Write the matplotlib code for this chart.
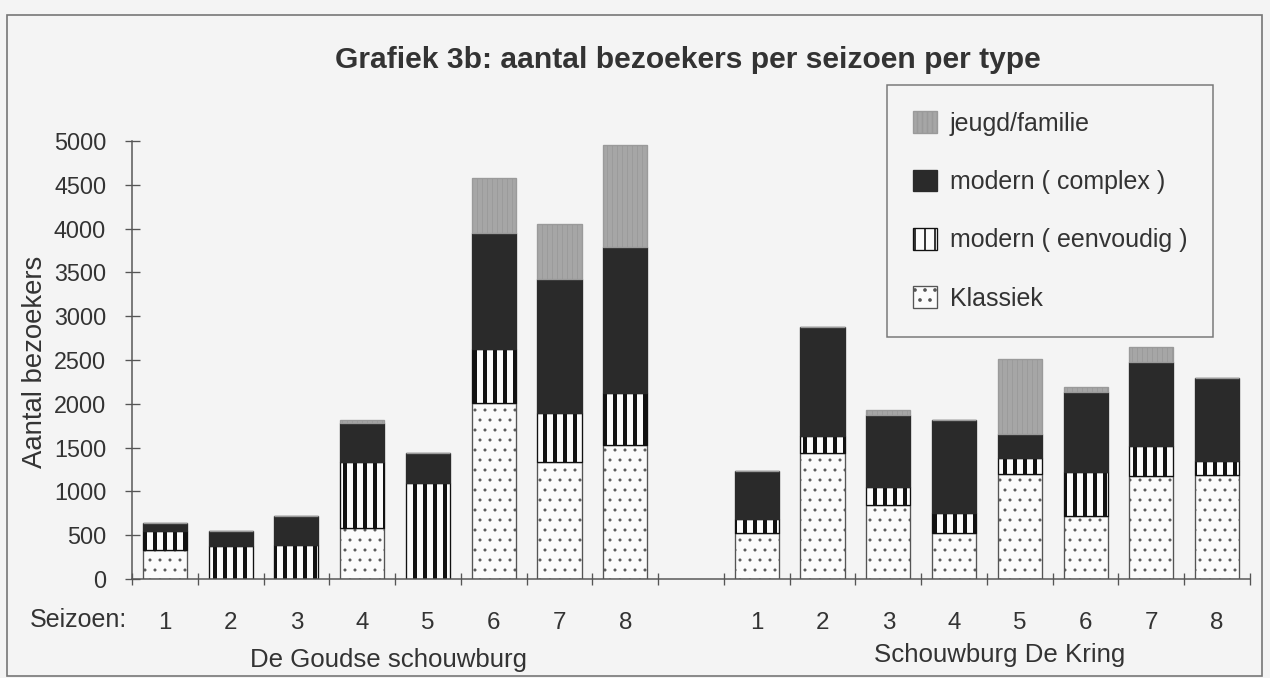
import matplotlib.pyplot as plt
import numpy as np
from matplotlib.patches import Rectangle

# seizoenen per schouwburg
seasons = ['1', '2', '3', '4', '5', '6', '7', '8']
venues = ['De Goudse schouwburg', 'Schouwburg De Kring']

# aantal bezoekers per type (De Goudse schouwburg)
goudse_klassiek = [330, 0, 0, 580, 0, 2010, 1335, 1535]
goudse_eenvoudig = [215, 380, 390, 755, 1100, 615, 565, 585]
goudse_complex = [95, 165, 330, 445, 340, 1330, 1530, 1665]
goudse_jeugd = [0, 0, 0, 40, 0, 620, 625, 1175]

# aantal bezoekers per type (Schouwburg De Kring)
kring_klassiek = [520, 1440, 850, 520, 1200, 720, 1180, 1190]
kring_eenvoudig = [170, 190, 200, 230, 180, 500, 340, 160]
kring_complex = [540, 1250, 820, 1060, 270, 910, 960, 950]
kring_jeugd = [0, 0, 60, 0, 860, 60, 170, 0]

y_ticks = [0, 500, 1000, 1500, 2000, 2500, 3000, 3500, 4000, 4500, 5000]

title = 'Grafiek 3b: aantal bezoekers per seizoen per type'

DPI = 120
plt.rcParams['font.family'] = ['Liberation Sans', 'DejaVu Sans']

fig = plt.figure(figsize=(1270 / DPI, 678 / DPI), dpi=DPI, facecolor='#f4f4f4')
ax = fig.add_axes([132 / 1270, 1 - 579 / 678, (1250 - 132) / 1270, (579 - 141) / 678])
ax.set_facecolor('#f4f4f4')

x = np.r_[np.arange(8), np.arange(9, 17)]
klassiek = np.array(goudse_klassiek + kring_klassiek)
eenvoudig = np.array(goudse_eenvoudig + kring_eenvoudig)
complex_ = np.array(goudse_complex + kring_complex)
jeugd = np.array(goudse_jeugd + kring_jeugd)

series = [
    ('Klassiek', klassiek, dict(facecolor='#fbfbfb', edgecolor='#555555', hatch='..'), 0.6),
    ('modern ( eenvoudig )', eenvoudig, dict(facecolor='#fbfbfb', edgecolor='#111111', hatch='||'), 2.4),
    ('modern ( complex )', complex_, dict(facecolor='#2a2a2a', edgecolor='#2a2a2a'), 1.0),
    ('jeugd/familie', jeugd, dict(facecolor='#a6a6a6', edgecolor='#9a9a9a', hatch='||||'), 0.5),
]

bottom = np.zeros(len(x))
handles = {}
for label, vals, style, hlw in series:
    with plt.rc_context({'hatch.linewidth': hlw}):
        bars = ax.bar(x, vals, 0.67, bottom=bottom, linewidth=0.8, label=label, **style)
        for b in bars:
            if hasattr(b, 'set_hatch_linewidth'):
                b.set_hatch_linewidth(hlw)
    handles[label] = bars
    bottom = bottom + vals

ax.set_xlim(-0.5, 16.5)
ax.set_ylim(0, 5000)
ax.set_yticks(y_ticks)
ax.set_xticks(x)
ax.set_xticklabels(seasons + seasons)
ax.set_xticks(np.arange(-0.5, 17, 1), minor=True)
ax.tick_params(axis='y', direction='inout', length=9, width=0.8, color='#555555',
               labelsize=14, pad=11, labelcolor='#333333')
ax.tick_params(axis='x', which='major', length=0, labelsize=14.5, pad=20, labelcolor='#333333')
ax.tick_params(axis='x', which='minor', direction='inout', length=7, width=0.8, color='#555555')
for s in ['top', 'right']:
    ax.spines[s].set_visible(False)
for s in ['left', 'bottom']:
    ax.spines[s].set_color('#555555')
    ax.spines[s].set_linewidth(0.9)

fig.text(35 / 1270, 1 - 362 / 678, 'Aantal bezoekers', rotation=90, ha='center', va='center',
         fontsize=16.5, color='#333333')

fig.text(688 / 1270, 1 - 60 / 678, title, ha='center', va='center', fontsize=18,
         fontweight='bold', color='#333333')
fig.text(30 / 1270, 1 - 620 / 678, 'Seizoen:', ha='left', va='center', fontsize=15,
         color='#333333')
fig.text(389 / 1270, 1 - 660 / 678, venues[0], ha='center', va='center', fontsize=15.5,
         color='#333333')
fig.text(1000 / 1270, 1 - 655 / 678, venues[1], ha='center', va='center', fontsize=15.5,
         color='#333333')

order = ['jeugd/familie', 'modern ( complex )', 'modern ( eenvoudig )', 'Klassiek']
leg = fig.legend([handles[k] for k in order], order, loc='upper left',
                 bbox_to_anchor=(887 / 1270, 1 - 85 / 678), borderaxespad=0,
                 fontsize=15, frameon=True, fancybox=False, edgecolor='#777777',
                 facecolor='#f4f4f4', framealpha=1, handlelength=0.95, handleheight=0.95,
                 handletextpad=0.5, labelspacing=1.36, borderpad=1.05)
for t in leg.get_texts():
    t.set_color('#333333')
leg.get_frame().set_linewidth(0.9)

fig.patches.append(Rectangle((7 / 1270, 2 / 678), 1255 / 1270, 661 / 678,
                             transform=fig.transFigure, fill=False,
                             edgecolor='#777777', linewidth=1.0))

fig.savefig('out.png', dpi=DPI, facecolor=fig.get_facecolor())
